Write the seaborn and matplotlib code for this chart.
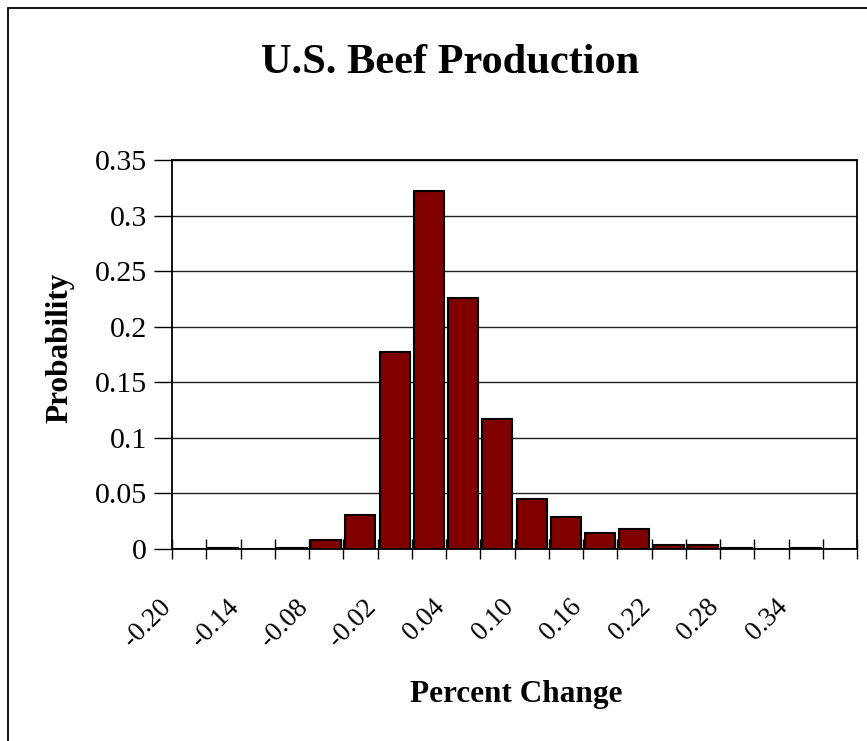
import numpy as np
import pandas as pd
import matplotlib
matplotlib.use("Agg")
import matplotlib.pyplot as plt
import matplotlib.patches as mpatches
from matplotlib.transforms import ScaledTranslation
import seaborn as sns

# ---- data ----
categories = ["-0.20", "-0.17", "-0.14", "-0.11", "-0.08", "-0.05", "-0.02", "0.01",
              "0.04", "0.07", "0.10", "0.13", "0.16", "0.19", "0.22", "0.25",
              "0.28", "0.31", "0.34", "0.37"]
probabilities = [0.0, 0.0012, 0.0, 0.0012, 0.0084, 0.0307, 0.1768, 0.3223,
                 0.2255, 0.1173, 0.0448, 0.0286, 0.0144, 0.0178, 0.0033, 0.0033,
                 0.0012, 0.0, 0.0012, 0.0]
tick_labels = categories[::2]
y_ticks = [0, 0.05, 0.1, 0.15, 0.2, 0.25, 0.3, 0.35]
y_tick_labels = ["0", "0.05", "0.1", "0.15", "0.2", "0.25", "0.3", "0.35"]

sns.set_theme(style="white")
plt.rcParams["font.family"] = ["Liberation Serif", "DejaVu Serif"]
plt.rcParams["text.color"] = "black"
plt.rcParams["axes.labelcolor"] = "black"
plt.rcParams["xtick.color"] = "black"
plt.rcParams["ytick.color"] = "black"

W, H, DPI = 867, 741, 100
fig = plt.figure(figsize=(W / DPI, H / DPI), dpi=DPI)
fig.patch.set_facecolor("white")

left, right, top, bottom = 172, 857, 160, 549
ax = fig.add_axes([left / W, 1 - bottom / H, (right - left) / W, (bottom - top) / H])

df = pd.DataFrame({"change": categories, "prob": probabilities})
sns.barplot(data=df, x="change", y="prob", order=categories, color="#800000",
            saturation=1, width=0.87, edgecolor="black", linewidth=1.5, ax=ax)

ax.set_xlim(-0.5, len(categories) - 0.5)
ax.set_ylim(0, 0.35)
ax.set_axisbelow(True)
ax.yaxis.grid(True, color="#222222", linewidth=1.0)
ax.xaxis.grid(False)

for s in ax.spines.values():
    s.set_visible(True)
    s.set_color("black")
    s.set_linewidth(1.3)

# y ticks
ax.set_yticks(y_ticks)
ax.set_yticklabels(y_tick_labels)
ax.tick_params(axis="y", direction="out", length=13, width=1, color="black",
               pad=5, labelsize=21.5, left=True, labelcolor="black")

# x ticks: major at category boundaries, labels on minor ticks at centres
ax.set_xticks(np.arange(len(categories) + 1) - 0.5)
ax.set_xticklabels([""] * (len(categories) + 1))
ax.tick_params(axis="x", which="major", direction="inout", length=14, width=1,
               color="black", bottom=True)
ax.set_xticks(np.arange(0, len(categories), 2), minor=True)
ax.set_xticklabels(tick_labels, minor=True)
ax.tick_params(axis="x", which="minor", length=0, pad=39, labelsize=19.5, bottom=True,
               labelcolor="black")
offset = ScaledTranslation(-22 / DPI, 0, fig.dpi_scale_trans)
for lab in ax.get_xticklabels(minor=True):
    lab.set_rotation(45)
    lab.set_ha("right")
    lab.set_va("center")
    lab.set_rotation_mode("anchor")
    lab.set_transform(lab.get_transform() + offset)

ax.set_xlabel("Percent Change", fontsize=22.5, fontweight="bold", va="baseline",
              color="black")
ax.xaxis.set_label_coords((516 - left) / (right - left), -(702 - bottom) / (bottom - top))
ax.set_ylabel("Probability", fontsize=22.5, fontweight="bold", va="center", color="black")
ax.yaxis.set_label_coords((60 - left) / (right - left), (bottom - 348) / (bottom - top))

fig.text(450 / W, 1 - 73 / H, "U.S. Beef Production", fontsize=30.5, fontweight="bold",
         ha="center", va="baseline", color="black")

# chart-area border
border = mpatches.Rectangle((8 / W, -0.2), 2.0, (1 - 8 / H) + 0.2, transform=fig.transFigure,
                            fill=False, edgecolor="black", linewidth=1.3)
fig.patches.append(border)

fig.savefig("out.png", dpi=DPI, facecolor="white")
